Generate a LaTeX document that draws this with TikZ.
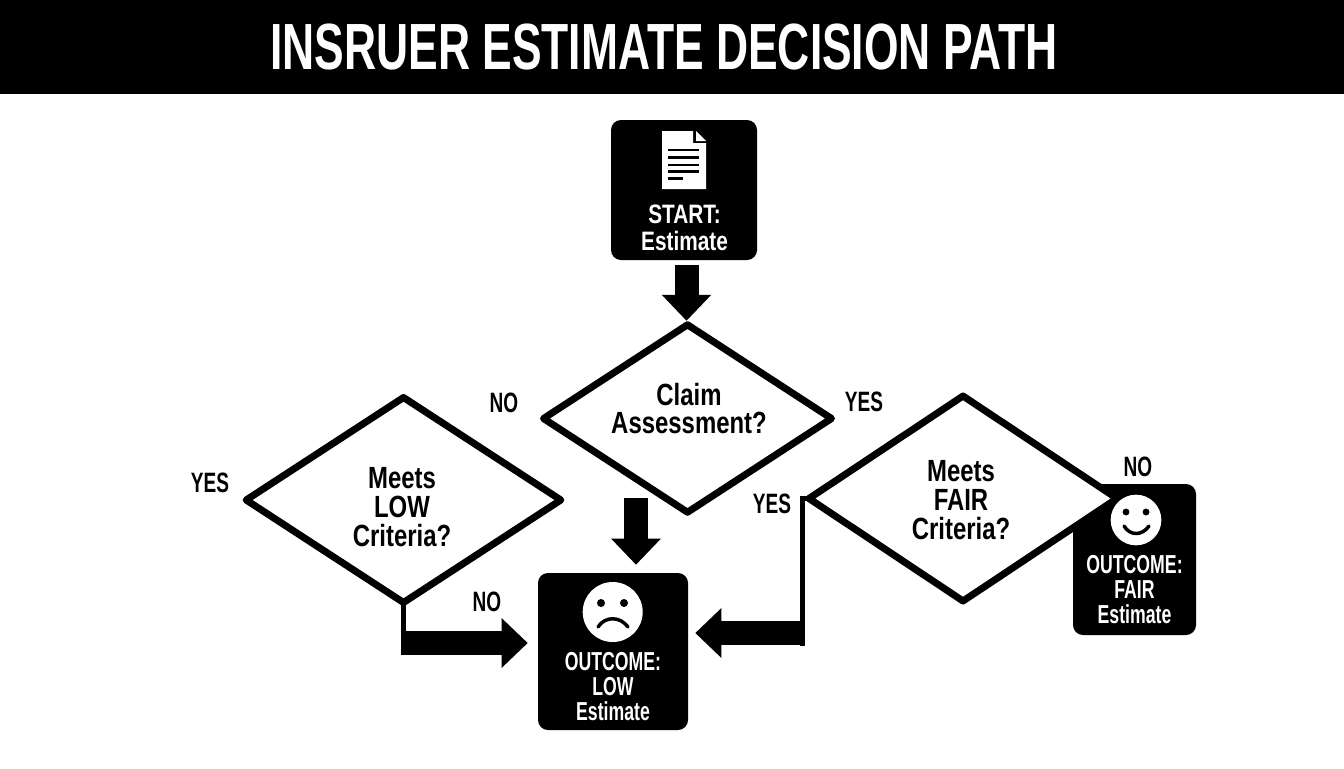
\documentclass[tikz,border=0pt]{standalone}
\usepackage{fontspec}
\setmainfont{Liberation Sans}[FakeStretch=0.68]
\newfontfamily\widerfont{Liberation Sans}[FakeStretch=0.78]
\usepackage{tikz}
\usetikzlibrary{shapes.geometric, arrows.meta}
\newcommand{\widthshaft}{18pt}
\newcommand{\widthhead}{36pt}
\newcommand{\lengthhead}{19.5pt}
\tikzset{
    common/.style={draw=none, fill=black, rectangle, rounded corners=7.5pt, inner sep=0pt},
    boxtext/.style={text=white, align=center, inner sep=0pt, font=\bfseries\fontsize{19.5}{18.75}\selectfont},
    question/.style={draw, diamond, fill=white, line width=5.25pt, line join=round, inner sep=0pt, outer sep=0pt},
    questiontext/.style={inner sep=0pt, align=center, font=\widerfont\bfseries\fontsize{23}{21.6}\selectfont},
    answer/.style={inner sep=0pt, font=\bfseries\fontsize{21}{21}\selectfont},
    blockarrow/.style={line width=\widthshaft, -{Triangle[length=\lengthhead, width=\widthhead]}},
    thinline/.style={line width=3.4pt},
    face/.style={circle, fill=white, inner sep=0pt}
}

\begin{document}
\begin{tikzpicture}[x=0.75pt, y=-0.75pt]
            \useasboundingbox (0,0) rectangle (1344,768);

            \node[fill=black, minimum width=1008pt, minimum height=70.5pt, inner sep=0pt] (banner) at (672,47) {};
            \node[inner sep=0pt, text=white, font=\bfseries\fontsize{49}{49}\selectfont] (title) at (664,47) {INSRUER ESTIMATE DECISION PATH};

            % boxes
            \node[common, minimum width=109.5pt, minimum height=105pt] (startbox) at (684,190) {};
            \node[common, minimum width=112.5pt, minimum height=117.75pt] (lowbox) at (613,651.5) {};
            \node[common, minimum width=92.25pt, minimum height=113.25pt] (fairbox) at (1134.5,559.5) {};

            % decisions
            \node[question, minimum width=216pt, minimum height=140.6pt] (claim) at (687.5,418.5) {};
            \node[question, minimum width=236pt, minimum height=153.75pt] (lowq) at (403.5,500) {};
            \node[question, minimum width=231pt, minimum height=153.75pt] (fairq) at (963,498.5) {};
            \node[questiontext] (claimtext) at (689,408.5) {Claim\\Assessment?};
            \node[questiontext] (lowqtext) at (402,507) {Meets\\LOW\\Criteria?};
            \node[questiontext] (fairqtext) at (961,500) {Meets\\FAIR\\Criteria?};

            % document icon
            \fill[white] (662,131) -- (693,131) -- (693,143) -- (706,143) -- (706,189) -- (662,189) -- cycle;
            \fill[white] (696,131) -- (706,141) -- (696,141) -- cycle;
            \foreach \y in {150,157.7,165,171.7}
                \fill[black] (668,\y-1.3) rectangle (699,\y+1.3);
            \fill[black] (668,177.4) rectangle (683,180);

            % faces
            \node[face, minimum size=45pt] (sadface) at (612.7,612) {};
            \fill (601,603) circle (3pt) (624,603) circle (3pt);
            \draw[line width=2.6pt, line cap=round] (598,627) .. controls (605,616) and (620,616) .. (628,627);
            \node[face, minimum size=38pt] (happyface) at (1136,520) {};
            \fill (1126,512) circle (2.6pt) (1146,512) circle (2.6pt);
            \draw[line width=2.6pt, line cap=round] (1124,526) .. controls (1130,536) and (1142,536) .. (1149,526);

            % box texts
            \node[boxtext, font=\widerfont\bfseries\fontsize{20}{20.25}\selectfont] (starttext) at (684.5,227.5) {START:\\Estimate};
            \node[boxtext] (lowtext) at (613,687) {OUTCOME:\\LOW\\Estimate};
            \node[boxtext] (fairtext) at (1134.5,590) {OUTCOME:\\FAIR\\Estimate};

            % answers
            \node[answer] (noclaim) at (504,403) {NO};
            \node[answer] (yesclaim) at (864,402) {YES};
            \node[answer] (yeslow) at (210,483) {YES};
            \node[answer] (nolow) at (487,602) {NO};
            \node[answer] (yesfair) at (772,504) {YES};
            \node[answer] (nofair) at (1138,467) {NO};

            \coordinate (startout) at (686.5,265);
            \coordinate (claimout) at (636,498);
            \coordinate (lowcorner) at (400.7,643);
            \coordinate (fairdrop) at (802.5,645.5);
            \coordinate (faircorner) at (804.3,633);

            \draw[blockarrow, shorten >=3pt] (startout) -- (startout |- claim.north);
            \draw[blockarrow, shorten >=6pt] (claimout) -- (claimout |- lowbox.north);
            \draw[thinline] (lowq.south) -- (lowq.south |- lowcorner);
            \draw[blockarrow, shorten >=7.5pt] (lowcorner) -- (lowcorner -| lowbox.west);
            \draw[thinline] (fairq.west) -| (fairdrop);
            \draw[blockarrow, shorten >=5.25pt] (faircorner) -- (faircorner -| lowbox.east);

        \end{tikzpicture}
\end{document}
